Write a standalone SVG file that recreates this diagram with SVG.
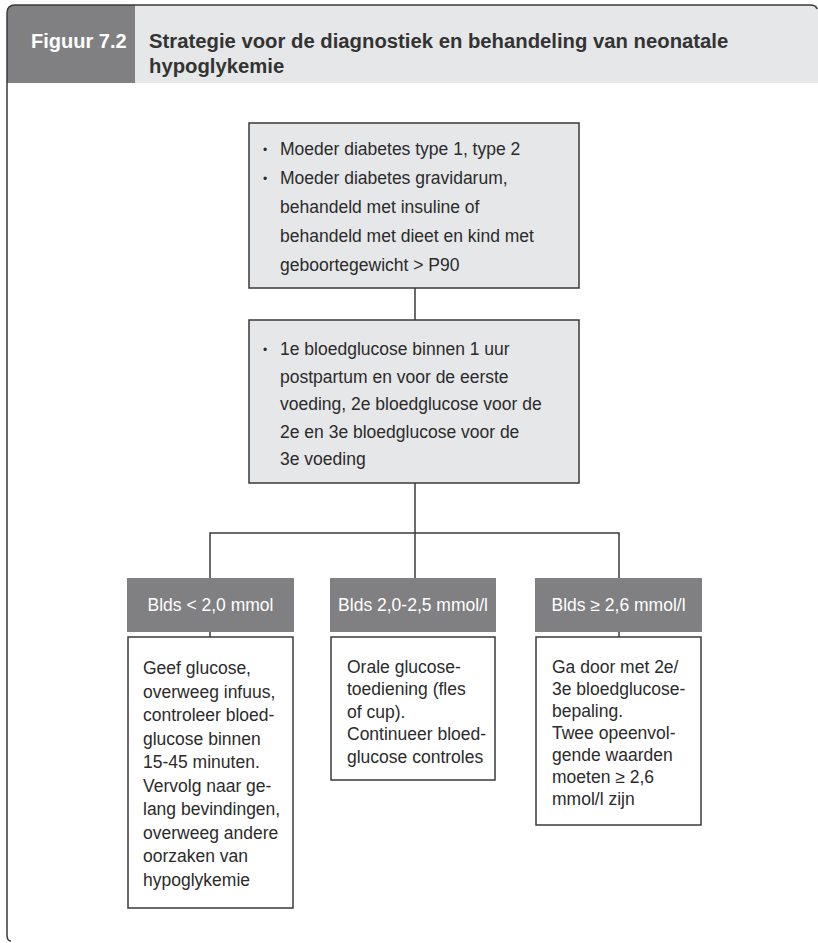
<svg xmlns="http://www.w3.org/2000/svg" width="818" height="943" viewBox="0 0 818 943">
  <style>
    .frame { fill: none; stroke: #3a3a3a; stroke-width: 1.5; }
    .hdr-dark { fill: #808083; }
    .hdr-light { fill: #e6e7e8; }
    .hdr-num { font-family: "Liberation Sans", Arial, sans-serif; font-weight: bold; font-size: 20px; fill: #ffffff; }
    .hdr-title { font-family: "Liberation Sans", Arial, sans-serif; font-weight: bold; font-size: 20.3px; fill: #333333; }
    .box-grey { fill: #e6e7e8; stroke: #3a3a3a; stroke-width: 1.5; }
    .box-white { fill: #ffffff; stroke: #3a3a3a; stroke-width: 1.5; }
    .label { fill: #808083; }
    .label-text { font-family: "Liberation Sans", Arial, sans-serif; font-size: 17.5px; fill: #ffffff; text-anchor: middle; }
    .body { font-family: "Liberation Sans", Arial, sans-serif; font-size: 17.5px; fill: #2b2b2b; }
    .bullet { font-size: 12px; }
    .conn { fill: none; stroke: #3a3a3a; stroke-width: 1.5; }
  </style>

  <!-- outer frame and caption bar -->
  <g id="header">
    <rect class="hdr-light" x="135" y="5" width="683" height="78"/>
    <path class="hdr-dark" d="M7 83 L7 13 Q7 5 15 5 L135 5 L135 83 Z"/>
    <path class="frame" d="M11 941 Q7 941 7 935 L7 13 Q7 5 15 5 L810 5 Q816 5 817 9"/>
    <text class="hdr-num" x="31" y="48">Figuur 7.2</text>
    <text class="hdr-title" x="149" y="48">Strategie voor de diagnostiek en behandeling van neonatale</text>
    <text class="hdr-title" x="149" y="73">hypoglykemie</text>
  </g>

  <!-- connectors -->
  <g id="connectors">
    <line class="conn" x1="415" y1="288" x2="415" y2="320"/>
    <line class="conn" x1="415" y1="483" x2="415" y2="578"/>
    <polyline class="conn" points="210,578 210,533 619,533 619,578"/>
    <line class="conn" x1="210" y1="632" x2="210" y2="637"/>
    <line class="conn" x1="619" y1="632" x2="619" y2="637"/>
  </g>

  <g id="risk">
    <rect class="box-grey" x="249" y="123" width="330" height="165"/>
    <text class="body">
      <tspan class="bullet" x="263" y="154">•</tspan><tspan x="280" y="155">Moeder diabetes type 1, type 2</tspan>
      <tspan class="bullet" x="263" y="183">•</tspan><tspan x="280" y="184">Moeder diabetes gravidarum,</tspan>
      <tspan x="280" y="213">behandeld met insuline of</tspan>
      <tspan x="280" y="242">behandeld met dieet en kind met</tspan>
      <tspan x="280" y="271">geboortegewicht &gt; P90</tspan>
    </text>
  </g>

  <g id="measure">
    <rect class="box-grey" x="249" y="320" width="330" height="163"/>
    <text class="body">
      <tspan class="bullet" x="263" y="354">•</tspan><tspan x="280" y="355">1e bloedglucose binnen 1 uur</tspan>
      <tspan x="280" y="382.5">postpartum en voor de eerste</tspan>
      <tspan x="280" y="410">voeding, 2e bloedglucose voor de</tspan>
      <tspan x="280" y="437.5">2e en 3e bloedglucose voor de</tspan>
      <tspan x="280" y="465">3e voeding</tspan>
    </text>
  </g>

  <g id="label-low">
    <rect class="label" x="127" y="578" width="167" height="54"/>
    <text class="label-text" x="210.5" y="611">Blds &lt; 2,0 mmol</text>
  </g>
  <g id="label-mid">
    <rect class="label" x="330" y="578" width="166" height="54"/>
    <text class="label-text" x="413" y="611">Blds 2,0-2,5 mmol/l</text>
  </g>
  <g id="label-high">
    <rect class="label" x="535" y="578" width="167" height="54"/>
    <text class="label-text" x="618.5" y="611">Blds ≥ 2,6 mmol/l</text>
  </g>

  <g id="action-low">
    <rect class="box-white" x="128" y="637" width="165" height="271"/>
    <text class="body">
      <tspan x="143" y="674">Geef glucose,</tspan>
      <tspan x="143" y="697.5">overweeg infuus,</tspan>
      <tspan x="143" y="721">controleer bloed-</tspan>
      <tspan x="143" y="744.5">glucose binnen</tspan>
      <tspan x="143" y="768">15-45 minuten.</tspan>
      <tspan x="143" y="791.5">Vervolg naar ge-</tspan>
      <tspan x="143" y="815">lang bevindingen,</tspan>
      <tspan x="143" y="838.5">overweeg andere</tspan>
      <tspan x="143" y="862">oorzaken van</tspan>
      <tspan x="143" y="885.5">hypoglykemie</tspan>
    </text>
  </g>

  <g id="action-mid">
    <rect class="box-white" x="331" y="637" width="164" height="143"/>
    <text class="body">
      <tspan x="347" y="673">Orale glucose-</tspan>
      <tspan x="347" y="695.4">toediening (fles</tspan>
      <tspan x="347" y="717.8">of cup).</tspan>
      <tspan x="347" y="740.2">Continueer bloed-</tspan>
      <tspan x="347" y="762.6">glucose controles</tspan>
    </text>
  </g>

  <g id="action-high">
    <rect class="box-white" x="536" y="637" width="165" height="188"/>
    <text class="body">
      <tspan x="552" y="673">Ga door met 2e/</tspan>
      <tspan x="552" y="695">3e bloedglucose-</tspan>
      <tspan x="552" y="717">bepaling.</tspan>
      <tspan x="552" y="739">Twee opeenvol-</tspan>
      <tspan x="552" y="761">gende waarden</tspan>
      <tspan x="552" y="783">moeten ≥ 2,6</tspan>
      <tspan x="552" y="805">mmol/l zijn</tspan>
    </text>
  </g>
</svg>
